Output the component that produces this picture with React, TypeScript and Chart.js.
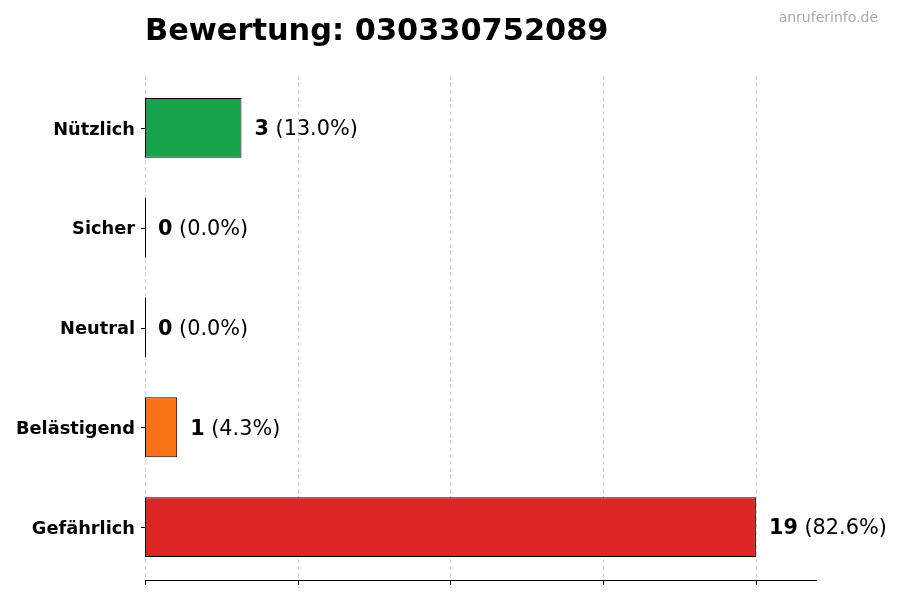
import React, { useRef, useEffect } from 'react';
import { Chart, registerables } from 'chart.js';

Chart.register(...registerables);

const categories = ['Nützlich', 'Sicher', 'Neutral', 'Belästigend', 'Gefährlich'];
const counts = [3, 0, 0, 1, 19];
const barColors = ['#16a34a', '#2563eb', '#6b7280', '#f97316', '#dc2626'];
const xTicks = [0, 4.75, 9.5, 14.25, 19];
const xMax = 20.9;
const titleText = 'Bewertung: 030330752089';
const watermark = 'anruferinfo.de';

const FONT = '"DejaVu Sans", sans-serif';

// axes frame drawn a little beyond the category band, like the original
const FRAME_TOP = 76;
const FRAME_BOTTOM = 580;

const gridPlugin = {
  id: 'dashGrid',
  beforeDatasetsDraw(chart: any) {
    const { ctx } = chart;
    const xScale = chart.scales.x;
    ctx.save();
    ctx.strokeStyle = '#d4d4d4';
    ctx.lineWidth = 1;
    ctx.setLineDash([4, 3]);
    ctx.beginPath();
    xTicks.forEach((v) => {
      const x = Math.round(xScale.getPixelForValue(v)) + 0.5;
      ctx.moveTo(x, FRAME_TOP);
      ctx.lineTo(x, FRAME_BOTTOM);
    });
    ctx.stroke();
    ctx.restore();
  },
};

const decorPlugin = {
  id: 'decor',
  afterDraw(chart: any) {
    const { ctx, chartArea } = chart;
    const xScale = chart.scales.x;
    const yScale = chart.scales.y;
    ctx.save();

    // title + watermark
    ctx.fillStyle = '#000';
    ctx.font = `bold 30.4px ${FONT}`;
    ctx.textAlign = 'left';
    ctx.textBaseline = 'alphabetic';
    ctx.fillText(titleText, chartArea.left, 40);
    ctx.fillStyle = '#aaaaaa';
    ctx.font = `14px ${FONT}`;
    ctx.textAlign = 'right';
    ctx.fillText(watermark, 878, 22);

    // bottom spine + tick marks
    ctx.strokeStyle = '#000';
    ctx.lineWidth = 1;
    ctx.beginPath();
    ctx.moveTo(chartArea.left, FRAME_BOTTOM + 0.5);
    ctx.lineTo(chartArea.right, FRAME_BOTTOM + 0.5);
    xTicks.forEach((v) => {
      const x = Math.round(xScale.getPixelForValue(v)) + 0.5;
      ctx.moveTo(x, FRAME_BOTTOM);
      ctx.lineTo(x, FRAME_BOTTOM + 5);
    });
    categories.forEach((_, i) => {
      const y = Math.round(yScale.getPixelForValue(i)) + 0.5;
      ctx.moveTo(chartArea.left - 4, y);
      ctx.lineTo(chartArea.left, y);
    });
    ctx.stroke();

    // value labels
    const total = counts.reduce((a, b) => a + b, 0);
    const meta = chart.getDatasetMeta(0);
    ctx.textAlign = 'left';
    ctx.textBaseline = 'middle';
    ctx.fillStyle = '#000';
    meta.data.forEach((bar: any, i: number) => {
      const x = xScale.getPixelForValue(counts[i]) + 13;
      const y = bar.y + 2;
      const valueStr = String(counts[i]);
      const pctStr = ` (${((counts[i] / total) * 100).toFixed(1)}%)`;
      ctx.font = `bold 20.8px ${FONT}`;
      ctx.fillText(valueStr, x, y);
      const w = ctx.measureText(valueStr).width;
      ctx.font = `20.8px ${FONT}`;
      ctx.fillText(pctStr, x + w, y);
    });
    ctx.restore();
  },
};

export default function App() {
  const canvasRef = useRef<HTMLCanvasElement | null>(null);

  useEffect(() => {
    document.body.style.margin = '0';
    if (!canvasRef.current) return;
    Chart.defaults.font.family = FONT;
    Chart.defaults.color = '#000';
    const chart = new Chart(canvasRef.current, {
      type: 'bar',
      data: {
        labels: categories,
        datasets: [
          {
            data: counts,
            backgroundColor: barColors,
            borderColor: '#000',
            borderWidth: 1,
            borderSkipped: false,
            minBarLength: 1,
            barPercentage: 0.6,
            categoryPercentage: 1,
          },
        ],
      },
      options: {
        indexAxis: 'y',
        animation: false,
        responsive: false,
        maintainAspectRatio: false,
        layout: { padding: { left: 0, top: 78, right: 83, bottom: 0 } },
        plugins: {
          legend: { display: false },
          tooltip: { enabled: false },
        },
        scales: {
          x: {
            min: 0,
            max: xMax,
            afterBuildTicks: (scale: any) => {
              scale.ticks = xTicks.map((v) => ({ value: v }));
            },
            afterFit: (scale: any) => {
              scale.height = 23;
            },
            ticks: { display: false },
            grid: { display: false },
            border: { display: false },
          },
          y: {
            afterFit: (scale: any) => {
              scale.width = 145;
            },
            grid: { display: false },
            border: { display: false },
            ticks: {
              padding: 2,
              labelOffset: 2,
              color: '#000',
              font: { size: 17.8, weight: 'bold', family: FONT },
            },
          },
        },
      },
      plugins: [gridPlugin, decorPlugin],
    });
    return () => chart.destroy();
  }, []);

  return (
    <div style={{ width: 900, height: 600, background: '#fff' }}>
      <canvas ref={canvasRef} width={900} height={600} />
    </div>
  );
}
